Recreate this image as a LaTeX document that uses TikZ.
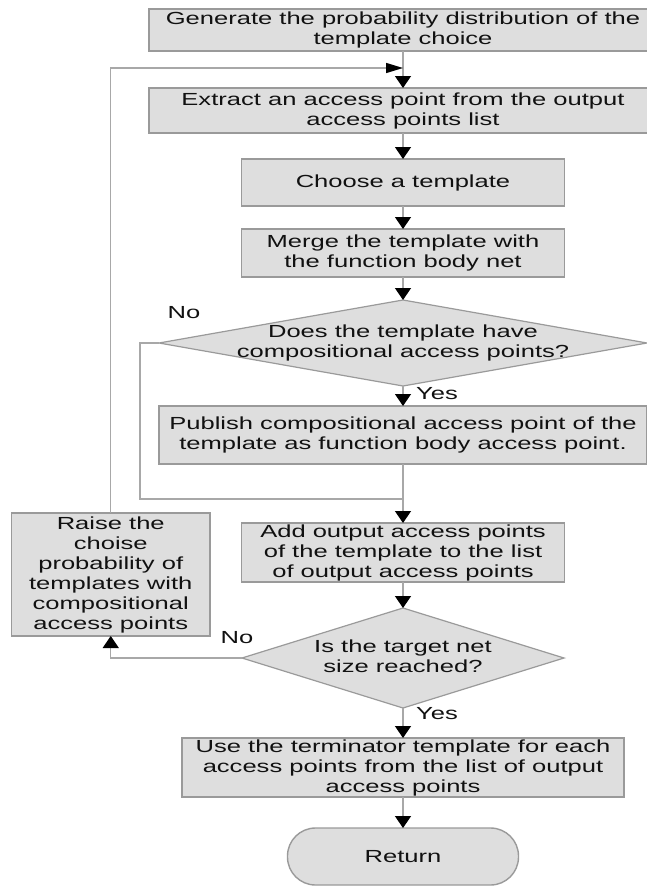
\documentclass[tikz,border=0pt]{standalone}
\usepackage{fontspec}
\setmainfont{Liberation Sans}[FakeStretch=1.46]
\usetikzlibrary{shapes.geometric,arrows.meta}
\definecolor{boxfill}{HTML}{DEDEDE}
\definecolor{boxline}{HTML}{9A9A9A}
\definecolor{wirecol}{HTML}{A8A8A8}
\definecolor{ink}{HTML}{111111}
\newcommand{\dtext}[1]{\makebox[0pt]{\begin{tabular}{@{}c@{}}#1\end{tabular}}}
\begin{document}
\begin{tikzpicture}[x=1pt,y=-1pt,
  every node/.style={font=\fontsize{17.5}{20}\selectfont, text=ink},
  proc/.style={draw=boxline, fill=boxfill, line width=1.4pt, inner sep=0pt, outer sep=0pt, align=center},
  dec/.style={diamond, draw=boxline, fill=boxfill, line width=1.2pt, inner sep=0pt, outer sep=0pt},
  term/.style={proc, rounded corners=28pt},
  wire/.style={draw=wirecol, line width=1.4pt},
  arr/.style={wire, -{Triangle[color=black,length=12pt,width=16pt]}},
  harr/.style={wire, -{Triangle[color=black,length=17pt,width=10pt]}},
  lbl/.style={inner sep=0pt}
]
\useasboundingbox (0,0) rectangle (647,886);
\fill[white] (0,0) rectangle (647,886);

% main column
\node[proc, minimum width=508pt, minimum height=42pt] (gen) at (403,30)
  {Generate the probability distribution of the\\template choice};
\node[proc, minimum width=508pt, minimum height=45pt] (ext) at (403,110.5)
  {Extract an access point from the output\\access points list};
\node[proc, minimum width=323pt, minimum height=47pt] (choose) at (403,182.5)
  {Choose a template};
\node[proc, minimum width=323pt, minimum height=48pt] (merge) at (403,253)
  {Merge the template with\\the function body net};
\node[dec, minimum width=488pt, minimum height=86pt] (d1) at (403,343)
  {\dtext{Does the template have\\compositional access points?}};
\node[proc, minimum width=488pt, minimum height=58pt] (pub) at (403,435)
  {Publish compositional access point of the\\template as function body access point.};
\node[proc, minimum width=323pt, minimum height=59pt] (add) at (403,552.5)
  {Add output access points\\of the template to the list\\of output access points};
\node[dec, minimum width=322pt, minimum height=100pt] (d2) at (403,658)
  {\dtext{Is the target net\\size reached?}};
\node[proc, minimum width=442pt, minimum height=59pt] (use) at (403,767.5)
  {Use the terminator template for each\\access points from the list of output\\access points};
\node[term, minimum width=231pt, minimum height=57pt] (ret) at (403,856.5)
  {Return};

% side box
\node[proc, minimum width=198.5pt, minimum height=123pt] (raise) at (110.75,574.5)
  {Raise the\\choise\\probability of\\templates with\\compositional\\access points};

% branch labels
\node[lbl] (no1) at (184,313) {No};
\node[lbl] (yes1) at (437,394) {Yes};
\node[lbl] (no2) at (237,638) {No};
\node[lbl] (yes2) at (437,714) {Yes};

% junctions on the main column
\coordinate (j1) at (403,68);
\coordinate (j2) at (403,499);

% connectors
\draw[arr] (gen) -- (ext);
\draw[arr] (ext) -- (choose);
\draw[arr] (choose) -- (merge);
\draw[arr] (merge) -- (d1);
\draw[arr] (d1) -- (pub);
\draw[wire] (d1.west) -- ++(-19,0) |- (j2);
\draw[arr] (pub) -- (add);
\draw[arr] (add) -- (d2);
\draw[arr] (d2.west) -| (raise.south);
\draw[harr] (raise.north) |- (j1);
\draw[arr] (d2) -- (use);
\draw[arr] (use) -- (ret);
\end{tikzpicture}
\end{document}
